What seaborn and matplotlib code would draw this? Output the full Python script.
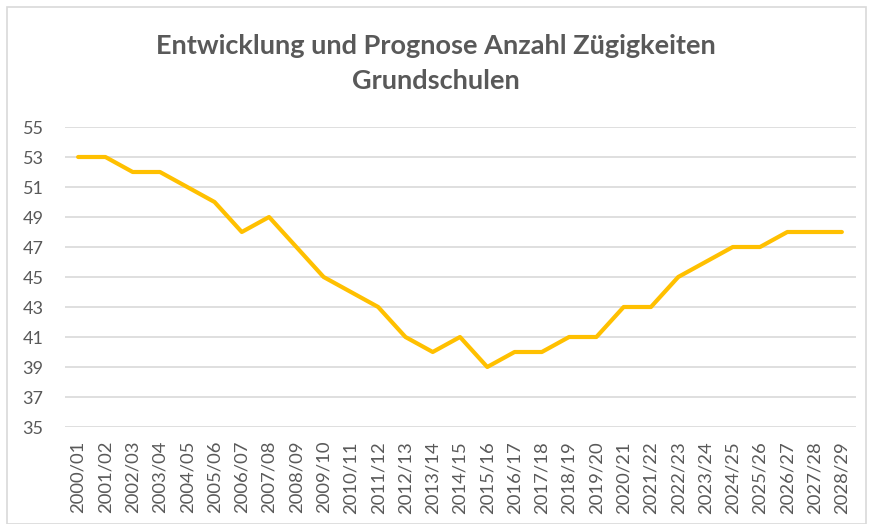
import matplotlib
matplotlib.use("Agg")
import matplotlib.pyplot as plt
import seaborn as sns
import pandas as pd

years = ["2000/01", "2001/02", "2002/03", "2003/04", "2004/05", "2005/06", "2006/07",
         "2007/08", "2008/09", "2009/10", "2010/11", "2011/12", "2012/13", "2013/14",
         "2014/15", "2015/16", "2016/17", "2017/18", "2018/19", "2019/20", "2020/21",
         "2021/22", "2022/23", "2023/24", "2024/25", "2025/26", "2026/27", "2027/28",
         "2028/29"]
values = [53, 53, 52, 52, 51, 50, 48, 49, 47, 45, 44, 43, 41, 40, 41, 39, 40, 40, 41,
          41, 43, 43, 45, 46, 47, 47, 48, 48, 48]
y_ticks = [35, 37, 39, 41, 43, 45, 47, 49, 51, 53, 55]
title_lines = ["Entwicklung und Prognose Anzahl Zügigkeiten", "Grundschulen"]

sns.set_style("white")
plt.rcParams['font.family'] = ['Lato', 'DejaVu Sans']

df = pd.DataFrame({"x": list(range(len(years))), "y": values})

fig = plt.figure(figsize=(8.72, 5.24), dpi=100)
ax = fig.add_axes([64.5/872, 1 - 427/524, (855.5-64.5)/872, 300/524])

sns.lineplot(data=df, x="x", y="y", ax=ax, color="#FFC000", linewidth=3.0,
             solid_capstyle="round", solid_joinstyle="round", zorder=3)

ax.set_xlim(-0.5, len(years) - 0.5)
ax.set_ylim(35, 55)
ax.set_yticks(y_ticks)
ax.set_yticklabels([str(v) for v in y_ticks], color="#595959", fontsize=13)
ax.set_xticks(range(len(years)))
ax.set_xticklabels(years, rotation=90, color="#595959", fontsize=13.3)
ax.tick_params(axis="y", length=0, pad=15)
ax.tick_params(axis="x", length=0, pad=10)
ax.yaxis.grid(True, color="#D9D9D9", linewidth=1.2)
ax.xaxis.grid(False)
for s in ax.spines.values():
    s.set_visible(False)
ax.set_xlabel("")
ax.set_ylabel("")

fig.text(0.5, 1 - 46/524, title_lines[0], ha="center",
         va="center", fontsize=19.5, fontweight="bold", color="#595959")
fig.text(0.5, 1 - 81/524, title_lines[1], ha="center",
         va="center", fontsize=19.5, fontweight="bold", color="#595959")

# chart border
border = plt.Rectangle((7/872, 0), (866-7)/872, 1 - 7/524, transform=fig.transFigure,
                       fill=False, edgecolor="#D9D9D9", linewidth=1.2)
fig.add_artist(border)

fig.savefig("out.png", dpi=100)
